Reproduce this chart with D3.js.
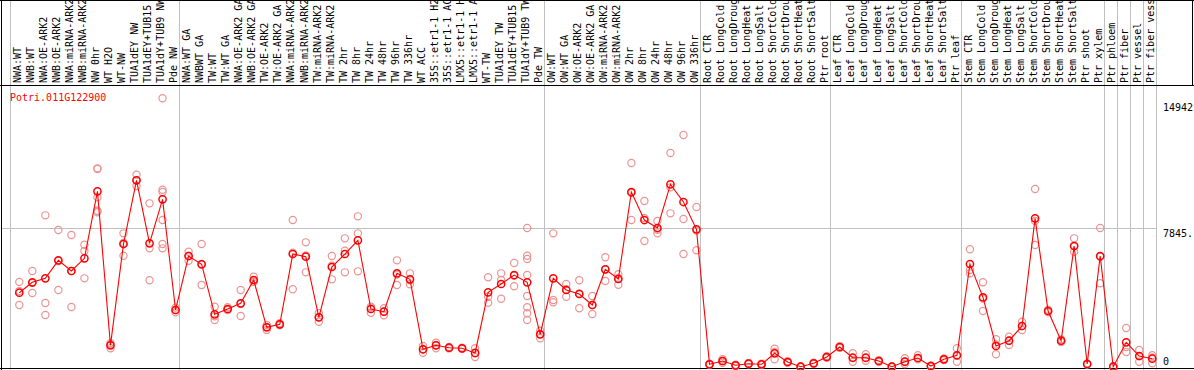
<!DOCTYPE html>
<html>
<head>
<meta charset="utf-8">
<script src="https://cdnjs.cloudflare.com/ajax/libs/d3/7.8.5/d3.min.js"></script>
<style>
  html, body { margin: 0; padding: 0; background: #fff; }
  svg { display: block; }
  text { font-family: "DejaVu Sans Mono", monospace; font-size: 10px; }
</style>
</head>
<body>
<div id="chart"><svg></svg></div>
<script>
const geneName = "Potri.011G122900";

const samples = [
  "NWA:WT", "NWB:WT", "NWA:OE-ARK2", "NWB:OE-ARK2", "NWA:miRNA-ARK2", "NWB:miRNA-ARK2",
  "NW 0hr", "WT H2O", "WT-NW", "TUA1dEY NW", "TUA1dEY+TUB15", "TUA1dY+TUB9 NW", "Pde NW",
  "NWA:WT GA", "NWBWT GA", "TW:WT", "TW:WT GA", "NWA:OE-ARK2 GA", "NWB:OE-ARK2 GA",
  "TW:OE-ARK2", "TW:OE-ARK2 GA", "NWA:miRNA-ARK2", "NWB:miRNA-ARK2", "TW:miRNA-ARK2",
  "TW:miRNA-ARK2", "TW 2hr", "TW 8hr", "TW 24hr", "TW 48hr", "TW 96hr", "TW 336hr",
  "WT ACC", "35S::etr1-1 H2", "35S::etr1-1 AC", "LMX5::etr1-1 H", "LMX5::etr1-1 A",
  "WT-TW", "TUA1dEY TW", "TUA1dEY+TUB15", "TUA1dY+TUB9 TW", "Pde TW",
  "OW:WT", "OW:WT GA", "OW:OE-ARK2", "OW:OE-ARK2 GA", "OW:miRNA-ARK2", "OW:miRNA-ARK2",
  "OW 2hr", "OW 8hr", "OW 24hr", "OW 48hr", "OW 96hr", "OW 336hr",
  "Root CTR", "Root LongCold", "Root LongDroug", "Root LongHeat", "Root LongSalt",
  "Root ShortCold", "Root ShortDrou", "Root ShortHeat", "Root ShortSalt", "Ptr root",
  "Leaf CTR", "Leaf LongCold", "Leaf LongDroug", "Leaf LongHeat", "Leaf LongSalt",
  "Leaf ShortCold", "Leaf ShortDrou", "Leaf ShortHeat", "Leaf ShortSalt", "Ptr leaf",
  "Stem CTR", "Stem LongCold", "Stem LongDroug", "Stem LongHeat", "Stem LongSalt",
  "Stem ShortCold", "Stem ShortDrou", "Stem ShortHeat", "Stem ShortSalt", "Ptr shoot", "Ptr xylem",
  "Ptr phloem", "Ptr fiber", "Ptr vessel", "Ptr fiber vess"
];

// number of samples in each experiment block
const groupSizes = [13, 28, 12, 10, 10, 11, 1, 1, 1, 1];

const means = [
  4278, 4848, 5067, 6054, 5468, 6164, 9838, 1393, 6948, 10441, 6987, 9400, 3330,
  6290, 5835, 3093, 3384, 3696, 4974, 2380, 2545, 6400, 6252, 2928, 5687, 6400, 7151,
  3384, 3236, 5341, 5012, 1174, 1393, 1261, 1228, 976, 4300, 4755, 5248, 4848, 1996,
  5067, 4426, 4206, 3603, 5561, 5029, 9800, 8264, 7826, 10222, 9252, 7754,
  351, 532, 296, 384, 351, 954, 477, 219, 406, 751,
  1300, 713, 713, 532, 219, 494, 696, 258, 625, 845,
  5851, 4025, 1355, 1645, 2451, 8358, 3274, 1645, 6839, 367, 6290,
  219, 1557, 806, 658
];

const replicates = [
  [4864, 4367, 3603], [5468, 4815, 4261], [8522, 3713, 3055], [7716, 6020, 4426],
  [7442, 5469, 3493], [6910, 6564, 5067], [11100, 11061, 9509, 8774, 8690], [1503, 1450, 1228],
  [7535, 7002, 6307], [10749, 10445, 10129], [9180, 6712, 4958],
  [14942, 9926, 9800, 8264, 6948, 6712], [3460, 3330, 3200],
  [6526, 6312, 6032], [6948, 5857, 4700], [3510, 2989, 2780], [3477, 3346, 3329],
  [4426, 3662, 3000], [5155, 4886, 4881], [2506, 2402, 2232], [2600, 2545, 2490],
  [8264, 6472, 4464], [7041, 6319, 5396], [3148, 2949, 2687], [6290, 5759, 5012],
  [7261, 6581, 5396], [8467, 7535, 5451], [3510, 3461, 3181], [3422, 3248, 3038],
  [6054, 5269, 4700], [5341, 4957, 4738], [1355, 1180, 987], [1536, 1415, 1228],
  [1300, 1261, 1222], [1260, 1228, 1196], [1228, 954, 746], [5122, 4058, 3729],
  [5341, 4974, 3948], [5906, 5209, 4629], [7826, 6307, 6126, 5248, 4097, 3477, 3148, 2780],
  [2194, 2017, 1777],
  [7535, 3877, 3751], [4755, 4465, 4058], [4958, 4238, 3422], [4097, 3603, 3109],
  [6219, 5545, 4919], [5287, 5084, 4716], [11390, 9746, 8264], [9306, 8373, 7113],
  [8210, 7733, 7535], [11939, 10058, 8632], [12926, 8319, 6400], [8977, 7682, 6603],
  [380, 351, 322], [625, 532, 439], [330, 296, 262], [420, 384, 348], [390, 351, 312],
  [1206, 1031, 625], [520, 477, 434], [250, 219, 188], [440, 406, 372], [800, 751, 702],
  [1350, 1300, 1250], [954, 691, 494], [899, 692, 548], [580, 532, 484], [250, 219, 188],
  [680, 494, 367], [845, 696, 625], [290, 258, 226], [670, 625, 580], [1228, 813, 494],
  [6658, 5522, 5341], [4848, 3953, 3274], [1722, 1444, 899], [1865, 1645, 1409],
  [2687, 2451, 2232], [9964, 8217, 6893], [3350, 3274, 3200], [1720, 1645, 1570],
  [7261, 6839, 6526], [400, 367, 334], [7826, 6251, 4793],
  [250, 219, 188], [2342, 1303, 1026], [1135, 789, 494], [845, 723, 406]
];

const yTickValues = [14942, 7845.5, 0];
const yTickLabels = ["14942", "7845.", "0"];

const width = 1194,
      height = 370,
      headerH = 85,
      plotLeft = 10.5,
      plotRight = 1156.5;

const svg = d3.select("#chart svg")
  .attr("width", width)
  .attr("height", height);

const x = d3.scaleBand()
  .domain(d3.range(samples.length))
  .range([plotLeft, plotRight]);

const y = d3.scaleLinear()
  .domain([0, 14942])
  .range([370.7, 98.3]);

const px = i => x(i) + 8.8;

// group separators (gray lines)
const bounds = [0].concat(Array.from(d3.cumsum(groupSizes)));
const boundX = d => Math.floor(d < samples.length ? x(d) : plotRight) + 0.5;

svg.append("g")
  .selectAll("line")
  .data(bounds)
  .enter()
  .append("line")
  .attr("x1", boundX)
  .attr("x2", boundX)
  .attr("y1", 0)
  .attr("y2", height)
  .attr("stroke", "#c0c0c0")
  .attr("stroke-width", 1);

// horizontal mid grid line
svg.append("line")
  .attr("x1", 1).attr("x2", plotRight)
  .attr("y1", Math.round(y(yTickValues[1])) + 0.5)
  .attr("y2", Math.round(y(yTickValues[1])) + 0.5)
  .attr("stroke", "#c0c0c0");

// frame
svg.append("line").attr("x1", 1.5).attr("x2", 1.5).attr("y1", 0).attr("y2", height).attr("stroke", "#000");
svg.append("line").attr("x1", 0).attr("x2", width).attr("y1", 0.5).attr("y2", 0.5).attr("stroke", "#000");
svg.append("line").attr("x1", 0).attr("x2", width).attr("y1", headerH + 0.5).attr("y2", headerH + 0.5).attr("stroke", "#000");
svg.append("line").attr("x1", 1192.5).attr("x2", 1192.5).attr("y1", 0).attr("y2", headerH).attr("stroke", "#000");
svg.append("line").attr("x1", 0).attr("x2", width).attr("y1", 368.5).attr("y2", 368.5).attr("stroke", "#000");

// sample labels, rotated
svg.append("g")
  .selectAll("text")
  .data(samples)
  .enter()
  .append("text")
  .attr("transform", (d, i) => `translate(${x(i) + 10.5},${headerH - 2}) rotate(-90)`)
  .attr("fill", "#000")
  .text(d => d);

// y labels at the right
svg.append("g")
  .selectAll("text")
  .data(yTickValues)
  .enter()
  .append("text")
  .attr("x", 1163)
  .attr("y", d => Math.min(Math.max(y(d) + 9, 110.7), 365))
  .attr("fill", "#000")
  .text((d, i) => yTickLabels[i]);

// gene name
svg.append("text")
  .attr("x", 10)
  .attr("y", 101)
  .attr("fill", "#ff0000")
  .text(geneName);

// replicate points
const repData = [];
replicates.forEach((reps, i) => reps.forEach(v => repData.push({ i: i, v: v })));

svg.append("g")
  .selectAll("circle")
  .data(repData)
  .enter()
  .append("circle")
  .attr("cx", d => px(d.i))
  .attr("cy", d => y(d.v))
  .attr("r", 3.6)
  .attr("fill", "none")
  .attr("stroke", "#ec9494")
  .attr("stroke-width", 1.2);

// mean line
const line = d3.line()
  .x((d, i) => px(i))
  .y(d => y(d));

svg.append("path")
  .datum(means)
  .attr("d", line)
  .attr("fill", "none")
  .attr("stroke", "#ff0000")
  .attr("stroke-width", 1.1);

svg.append("g")
  .selectAll("circle")
  .data(means)
  .enter()
  .append("circle")
  .attr("cx", (d, i) => px(i))
  .attr("cy", d => y(d))
  .attr("r", 3.6)
  .attr("fill", "none")
  .attr("stroke", "#ff0000")
  .attr("stroke-width", 1.5);
</script>
</body>
</html>
